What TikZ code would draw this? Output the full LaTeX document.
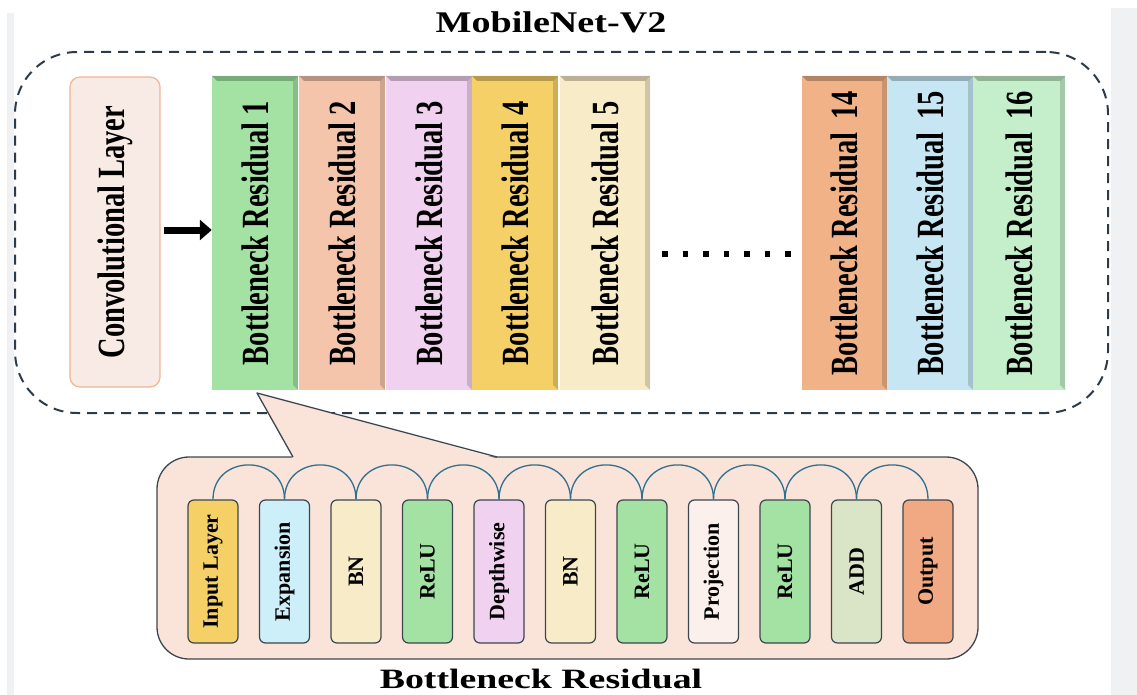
\documentclass[tikz,border=0pt]{standalone}
\usepackage{fontspec}
\setmainfont{Liberation Serif}
\usetikzlibrary{arrows.meta}

\definecolor{sidegray}{HTML}{F0F1F3}
\definecolor{framecol}{HTML}{2C3B4A}
\definecolor{hopcol}{HTML}{2E7091}
\definecolor{edgecol}{HTML}{3C4650}
\definecolor{convfill}{HTML}{F8EAE4}
\definecolor{convline}{HTML}{EFB596}
\definecolor{brfill}{HTML}{FAE3D8}
% block colours
\definecolor{cgreen}{HTML}{A3E2A3}
\definecolor{csalmon}{HTML}{F4C5AB}
\definecolor{cpink}{HTML}{F1D1F0}
\definecolor{cgold}{HTML}{F5D066}
\definecolor{ccream}{HTML}{F8ECC8}
\definecolor{corange}{HTML}{F0B286}
\definecolor{cblue}{HTML}{C5E6F2}
\definecolor{cmint}{HTML}{C5EFCA}
\definecolor{csky}{HTML}{CDEFF9}
\definecolor{cwhite}{HTML}{FCF0EC}
\definecolor{colive}{HTML}{D9E5C6}
\definecolor{cout}{HTML}{F0A983}

% upright label, wider across the line
\newcommand{\vlabel}[1]{\rotatebox{90}{\scalebox{1}[1.35]{#1}}}

\begin{document}
\begin{tikzpicture}[
    x=1pt, y=-1pt,
    font=\bfseries,
    block/.style={
        fill=#1,
        inner sep=0pt,
        minimum height=314pt,
        font=\fontsize{28.5}{30}\selectfont\bfseries,
        path picture={
            \fill[black, opacity=0.25]
                (path picture bounding box.north west) --
                (path picture bounding box.north east) --
                ([xshift=-5pt,yshift=-5pt]path picture bounding box.north east) --
                ([xshift=5pt,yshift=-5pt]path picture bounding box.north west) -- cycle;
            \fill[black, opacity=0.16]
                (path picture bounding box.north east) --
                (path picture bounding box.south east) --
                ([xshift=-5pt,yshift=5pt]path picture bounding box.south east) --
                ([xshift=-5pt,yshift=-5pt]path picture bounding box.north east) -- cycle;
        }
    },
    layer/.style={
        draw=edgecol,
        line width=1.2pt,
        fill=#1,
        rounded corners=6pt,
        inner sep=0pt,
        minimum width=50pt,
        minimum height=143pt,
        font=\fontsize{22}{24}\selectfont\bfseries
    },
    hop/.style={draw=hopcol, line width=1.3pt},
    bigarrow/.style={-{Triangle[length=12pt,width=20pt]}, line width=7pt}
]
    \useasboundingbox (0,0) rectangle (1137,695);

    % side strips
    \fill[sidegray] (7,13) rectangle (14,695);
    \fill[sidegray] (1111,8) rectangle (1137,695);

    % MobileNet frame
    \node[draw=framecol, line width=2pt, dash pattern=on 10pt off 7pt,
          rounded corners=62pt, minimum width=1093pt, minimum height=361pt]
        (mobilenet) at (561.5,232.5) {};
    \node[font=\fontsize{30}{32}\selectfont\bfseries] (mtitle) at (551,22)
        {\scalebox{1.27}[1]{MobileNet-V2}};

    % Convolutional layer
    \node[draw=convline, line width=1.2pt, fill=convfill, rounded corners=10pt,
          minimum width=90pt, minimum height=310pt, inner sep=0pt,
          font=\fontsize{28.5}{30}\selectfont\bfseries]
        (conv) at (115,232) {\vlabel{Convolutional Layer}};

    % Bottleneck blocks
    \node[block=cgreen, minimum width=86pt] (br1) at (255,233)
        {\vlabel{Bottleneck Residual 1}};
    \node[block=csalmon, minimum width=86pt] (br2) at (342,233)
        {\vlabel{Bottleneck Residual 2}};
    \node[block=cpink, minimum width=86pt] (br3) at (429,233)
        {\vlabel{Bottleneck Residual 3}};
    \node[block=cgold, minimum width=86pt] (br4) at (515,233)
        {\vlabel{Bottleneck Residual 4}};
    \node[block=ccream, minimum width=90pt] (br5) at (605,233)
        {\vlabel{Bottleneck Residual 5}};

    \node[block=corange, minimum width=85pt] (br14) at (844.5,233)
        {\vlabel{Bottleneck Residual\hspace{0.45em}14}};
    \node[block=cblue, minimum width=86pt] (br15) at (930,233)
        {\vlabel{Bottleneck Residual\hspace{0.45em}15}};
    \node[block=cmint, minimum width=92pt] (br16) at (1019,233)
        {\vlabel{Bottleneck Residual\hspace{0.45em}16}};

    \draw[bigarrow] ([xshift=3pt,yshift=2pt]conv.east) -- ([yshift=3pt]br1.west);
    \draw[line width=5.5pt, dash pattern=on 5.5pt off 15pt]
        ([xshift=12pt,yshift=-21pt]br5.east) -- ([xshift=-10pt,yshift=-21pt]br14.west);

    % Bottleneck residual detail
    \node[draw=edgecol, line width=1.3pt, fill=brfill, rounded corners=32pt,
          minimum width=821pt, minimum height=202pt] (brbox) at (567.5,558) {};
    \coordinate (tip) at (257,393);
    \fill[brfill] (tip) -- (293,458.5) -- (497,458.5) -- cycle;
    \draw[edgecol, line width=1.3pt, line join=round] (293,457) -- (tip) -- (497,457);

    \node[layer=cgold] (in1) at (213,571.5) {\rotatebox{90}{Input Layer}};
    \node[layer=csky] (in2) at (284.5,571.5) {\rotatebox{90}{Expansion}};
    \node[layer=ccream] (in3) at (356,571.5) {\rotatebox{90}{BN}};
    \node[layer=cgreen] (in4) at (427.5,571.5) {\rotatebox{90}{ReLU}};
    \node[layer=cpink] (in5) at (499,571.5) {\rotatebox{90}{Depthwise}};
    \node[layer=ccream] (in6) at (570.5,571.5) {\rotatebox{90}{BN}};
    \node[layer=cgreen] (in7) at (642,571.5) {\rotatebox{90}{ReLU}};
    \node[layer=cwhite] (in8) at (713.5,571.5) {\rotatebox{90}{Projection}};
    \node[layer=cgreen] (in9) at (785,571.5) {\rotatebox{90}{ReLU}};
    \node[layer=colive] (in10) at (856.5,571.5) {\rotatebox{90}{ADD}};
    \node[layer=cout] (in11) at (928,571.5) {\rotatebox{90}{Output}};

    % hops over the layers
    \draw[hop] (in1.north) .. controls +(0pt,46pt) and +(0pt,46pt) .. (in2.north);
    \draw[hop] (in2.north) .. controls +(0pt,46pt) and +(0pt,46pt) .. (in3.north);
    \draw[hop] (in3.north) .. controls +(0pt,46pt) and +(0pt,46pt) .. (in4.north);
    \draw[hop] (in4.north) .. controls +(0pt,46pt) and +(0pt,46pt) .. (in5.north);
    \draw[hop] (in5.north) .. controls +(0pt,46pt) and +(0pt,46pt) .. (in6.north);
    \draw[hop] (in6.north) .. controls +(0pt,46pt) and +(0pt,46pt) .. (in7.north);
    \draw[hop] (in7.north) .. controls +(0pt,46pt) and +(0pt,46pt) .. (in8.north);
    \draw[hop] (in8.north) .. controls +(0pt,46pt) and +(0pt,46pt) .. (in9.north);
    \draw[hop] (in9.north) .. controls +(0pt,46pt) and +(0pt,46pt) .. (in10.north);
    \draw[hop] (in10.north) .. controls +(0pt,46pt) and +(0pt,46pt) .. (in11.north);

    \node[font=\fontsize{28}{30}\selectfont\bfseries] (btitle) at (541,679)
        {\scalebox{1.35}[1]{Bottleneck Residual}};

\end{tikzpicture}
\end{document}
